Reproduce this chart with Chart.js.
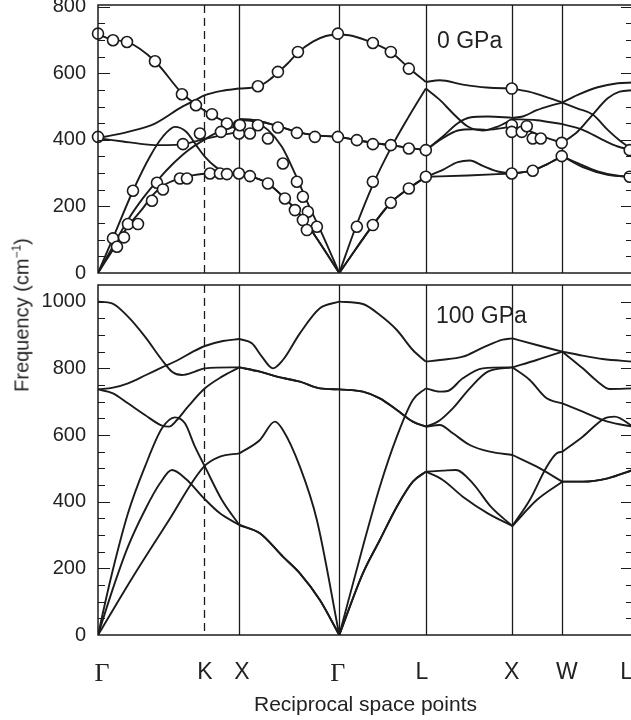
<!DOCTYPE html>
<html>
<head>
<meta charset="utf-8">
<script src="https://cdn.jsdelivr.net/npm/chart.js@4.4.1/dist/chart.umd.min.js"></script>
<style>
  html, body { margin: 0; padding: 0; background: #fff; overflow: hidden; }
  #wrap { position: relative; width: 631px; height: 720px; overflow: hidden; background: #fff; }
  #c0 { position: absolute; left: 0; top: -17px; }
  #c1 { position: absolute; left: 0; top: 263px; }
  #ytitle {
    position: absolute; left: 22px; top: 315px;
    transform: translate(-50%, -50%) rotate(-90deg);
    font: 20px "Liberation Sans", Arial, sans-serif; color: #222; white-space: nowrap;
  }
  #ytitle sup { font-size: 12px; vertical-align: 8px; line-height: 0; }
</style>
</head>
<body>
<div id="wrap">
  <canvas id="c0" width="663" height="312"></canvas>
  <canvas id="c1" width="663" height="457"></canvas>
  <div id="ytitle">Frequency (cm<sup>−1</sup>)</div>
</div>
<script>
// k-path distance (x100, units of 2π/a) of the symmetry points
const symK = [0, 106.1, 141.4, 241.4, 328.0, 414.6, 464.6, 535.3];
const kLabels = ['Γ', 'K', 'X', 'Γ', 'L', 'X', 'W', 'L'];
const labelK = [4, 107, 144, 240, 324, 414, 469, 529];
const breakK = [141.4, 241.4, 328.0, 414.6, 464.6];

const yTicksTop = [0, 200, 400, 600, 800];
const yTicksBot = [0, 200, 400, 600, 800, 1000];

// 0 GPa calculated branches  [k, cm-1]
const top1 = [[0,717],[15,700],[29,694],[57,636],[84,540],[99,504],[114,474],[129,453],[141.4,447],
  [141.4,554],[160,560],[170,577],[180,602],[190,630],[200,662],[215,695],[228,712],[241.4,717],
  [255,712],[275,691],[293,664],[311,616],[328,574],
  [342,579],[365,566],[389,557],[414.6,554],
  [432,544],[448,529],[464.6,512],
  [480,494],[495,476],[510,430],[522,398],[535.3,369]];
const top2 = [[0,405],[30,424],[57,449],[84,499],[97,519],[107,534],[124,547],[141.4,554],
  [141.4,462],[157,459],[177,444],[199,424],[217,414],[241.4,409],
  [258,400],[275,391],[293,384],[311,376],[328,369],
  [345,410],[360,450],[372,467],[390,470],[414.6,466],
  [425,470],[439,489],[452,502],[464.6,512],
  [480,535],[500,558],[520,570],[535.3,572]];
const top3 = [[0,405],[25,395],[45,387],[57,384],[70,384],[85,387],[106,402],[124,414],[141.4,424],
  [141.4,462],[157,459],[177,444],[199,424],[217,414],[241.4,409],
  [258,400],[275,391],[293,384],[311,376],[328,369],
  [345,405],[360,428],[375,432],[389,430],[414.6,440],
  [430,428],[447,408],[464.6,391],
  [480,425],[495,476],[510,525],[522,545],[535.3,549]];
const top4 = [[0,0],[15,105],[35,247],[52,350],[65,410],[77,439],[88,425],[98,385],[107,349],[118,318],[129,300],[141.4,299],
  [154,289],[170,269],[187,224],[204,169],[220,99],[241.4,0],
  [258,72],[275,144],[293,211],[311,254],[328,289],
  [345,310],[360,333],[372,338],[385,322],[400,305],[414.6,299],
  [435,308],[450,328],[464.6,351],
  [480,330],[500,305],[520,292],[535.3,289]];
const top5 = [[0,0],[15,80],[30,160],[45,225],[60,280],[75,328],[90,368],[106,400],[120,423],[141.4,444],
  [141.4,460],[157,454],[170,430],[184,379],[197,299],[210,209],[224,119],[241.4,0],
  [258,139],[275,265],[293,375],[311,470],[328,554],
  [342,520],[355,480],[370,440],[385,428],[400,440],[414.6,462],
  [439,459],[464.6,447],
  [485,430],[505,400],[520,380],[535.3,369]];
const top6 = [[0,0],[15,70],[30,140],[45,195],[55,235],[65,262],[80,283],[100,296],[120,299],[141.4,299],
  [154,289],[170,269],[187,224],[204,169],[220,99],[241.4,0],
  [258,72],[275,144],[293,211],[311,254],[328,289],
  [370,293],[414.6,299],
  [435,308],[450,328],[464.6,351],
  [485,318],[510,295],[535.3,289]];

// 0 GPa measured points
const expK = [0,15,29,57,84,98,114,129,141,141,123,102,85,0,35,15,19,26,30,40,54,59,65,82,89,112,122,129,141,
  152,160,180,200,240,142,160,180,199,217,240,170,185,199,205,210,219,152,170,187,197,205,209,
  275,293,311,259,275,293,311,328,259,275,275,293,311,328,
  414,414,414,424,429,435,443,414,435,464,464,532,532];
const expFreq = [719,699,694,636,537,504,477,449,444,419,424,419,387,409,247,104,79,107,147,147,217,271,251,284,284,299,299,297,299,
  419,561,604,664,719,444,444,437,421,409,409,404,329,274,229,184,139,291,269,224,189,159,129,
  691,664,614,399,387,384,374,369,139,274,144,211,254,289,
  554,444,424,424,441,404,404,299,307,391,351,369,289];

// 100 GPa calculated branches
const bot1 = [[0,1000],[14,995],[30,955],[47,895],[64,825],[74,790],[84,780],[97,790],[107,800],[141.4,803],
  [162,790],[179,775],[202,760],[222,740],[241.4,737],
  [265,730],[282,710],[299,675],[315,640],[328,625],
  [342,630],[355,605],[372,570],[392,550],[414.6,540],
  [439,505],[464.6,460],
  [485,460],[510,470],[535.3,495]];
const bot2 = [[0,737],[15,742],[30,755],[48,780],[64,803],[80,825],[95,850],[107,867],[125,882],[141.4,888],
  [154,875],[164,835],[175,800],[185,825],[202,905],[222,980],[241.4,1000],
  [265,993],[282,960],[299,915],[315,855],[328,820],
  [342,825],[365,835],[385,862],[405,886],[414.6,890],
  [439,870],[464.6,850],
  [485,838],[505,828],[535.3,820]];
const bot3 = [[0,737],[15,725],[30,695],[47,660],[64,628],[71,625],[79,645],[90,685],[107,740],[124,775],[141.4,803],
  [162,790],[179,775],[202,760],[222,740],[241.4,737],
  [265,730],[282,710],[299,675],[315,640],[328,625],
  [340,640],[355,680],[372,740],[390,790],[414.6,803],
  [439,825],[464.6,850],
  [485,800],[500,760],[512,738],[535.3,740]];
const bot4 = [[0,0],[12,160],[30,365],[47,505],[64,620],[77,653],[87,635],[97,565],[107,505],[124,405],[141.4,330],
  [162,305],[185,235],[202,185],[222,105],[241.4,0],
  [265,185],[282,285],[299,385],[315,460],[328,490],
  [345,493],[358,495],[375,455],[393,385],[414.6,327],
  [439,405],[464.6,460],
  [485,460],[510,470],[535.3,495]];
const bot5 = [[0,0],[15,140],[30,265],[47,375],[62,455],[74,495],[88,468],[106,410],[122,365],[141.4,330],
  [162,305],[185,235],[202,185],[222,105],[241.4,0],
  [265,185],[282,285],[299,385],[315,460],[328,490],
  [345,465],[365,415],[390,365],[414.6,327],
  [432,405],[449,505],[459,545],[464.6,550],
  [485,595],[507,650],[517,655],[535.3,625]];
const bot6 = [[0,0],[35,175],[69,335],[106,505],[122,535],[141.4,545],
  [162,585],[177,640],[185,615],[202,505],[219,345],[241.4,0],
  [265,265],[282,445],[299,595],[315,705],[328,740],
  [342,730],[350,732],[365,770],[385,800],[414.6,803],
  [432,765],[449,710],[464.6,695],
  [485,670],[510,640],[535.3,625]];

Chart.defaults.font.family = '"Liberation Sans", Arial, sans-serif';
Chart.defaults.color = '#222';

// cut a branch into pieces at the symmetry points
function pieces(band) {
  const segs = [];
  let cur = [];
  band.forEach((p, i) => {
    cur.push(p);
    const next = band[i + 1];
    if (next && breakK.includes(p[0])) {
      segs.push(cur);
      cur = next[0] === p[0] ? [] : [p];
    }
  });
  segs.push(cur);
  return segs;
}

function lineSets(bands) {
  const out = [];
  bands.forEach(b => pieces(b).forEach(seg => out.push({
    type: 'line',
    data: seg.map(p => ({ x: p[0], y: p[1] })),
    borderColor: '#1b1b1b',
    borderWidth: 1.9,
    pointRadius: 0,
    cubicInterpolationMode: 'monotone',
    fill: false,
    order: 1
  })));
  return out;
}

const framePlugin = {
  id: 'frame',
  beforeDatasetsDraw(chart) {
    const { ctx, chartArea: a, scales: { x } } = chart;
    ctx.save();
    ctx.strokeStyle = '#1b1b1b';
    ctx.lineWidth = 1.3;
    symK.forEach((k, i) => {
      if (i === 0 || i === symK.length - 1) return;
      const px = Math.round(x.getPixelForValue(k)) + 0.5;
      ctx.setLineDash(i === 1 ? [8, 5] : []);
      ctx.beginPath();
      ctx.moveTo(px, a.top);
      ctx.lineTo(px, a.bottom);
      ctx.stroke();
    });
    ctx.restore();
  },
  afterDatasetsDraw(chart, args, opts) {
    const { ctx, chartArea: a, scales: { y } } = chart;
    ctx.save();
    ctx.strokeStyle = '#1b1b1b';
    ctx.lineWidth = 1.5;
    ctx.strokeRect(a.left, a.top, a.right - a.left, a.bottom - a.top);
    // inner tick marks, every 50 cm-1
    ctx.lineWidth = 1.2;
    for (let v = 50; v < y.max; v += 50) {
      const py = Math.round(y.getPixelForValue(v)) + 0.5;
      const len = v % 200 === 0 ? 12 : 7;
      ctx.beginPath();
      ctx.moveTo(a.left, py); ctx.lineTo(a.left + len, py);
      ctx.moveTo(a.right, py); ctx.lineTo(a.right - len, py);
      ctx.stroke();
    }
    ctx.fillStyle = '#222';
    ctx.font = '23px "Liberation Sans", Arial, sans-serif';
    ctx.fillText(opts.text, opts.x, a.top + opts.dy);
    ctx.restore();
  }
};

function makePanel(id, bands, yMax, yTicks, label, withX, extra) {
  const datasets = lineSets(bands).concat(extra || []);
  return new Chart(document.getElementById(id), {
    type: 'line',
    data: { datasets },
    plugins: [framePlugin],
    options: {
      responsive: false,
      animation: false,
      events: [],
      layout: { padding: { left: 0, right: 30, top: 0, bottom: 0 } },
      plugins: { legend: { display: false }, tooltip: { enabled: false }, frame: label },
      scales: {
        x: {
          type: 'linear', min: 0, max: 535.3,
          display: withX,
          afterBuildTicks: s => { s.ticks = labelK.map(v => ({ value: v })); },
          afterFit: s => { if (withX) s.height = 85; },
          grid: { display: false, drawTicks: false },
          border: { display: false },
          ticks: {
            autoSkip: false, maxRotation: 0, padding: 24, color: '#222',
            callback: (v, i) => kLabels[i],
            font: c => kLabels[c.index] === 'Γ'
              ? { family: '"Liberation Serif", "Times New Roman", serif', size: 26 }
              : { family: '"Liberation Sans", Arial, sans-serif', size: 23 }
          },
          title: {
            display: true, text: 'Reciprocal space points', color: '#222',
            font: { size: 21 }, padding: { top: 0, bottom: 2 }
          }
        },
        y: {
          type: 'linear', min: 0, max: yMax,
          afterBuildTicks: s => { s.ticks = yTicks.map(v => ({ value: v })); },
          afterFit: s => { s.width = 98; },
          grid: { display: false, drawTicks: false },
          border: { display: false },
          ticks: {
            padding: 12, color: '#222', font: { size: 20, lineHeight: 1 },
            callback: v => String(v)
          }
        }
      }
    }
  });
}

const expPoints = {
  type: 'scatter',
  data: expK.map((k, i) => ({ x: k, y: expFreq[i] })),
  showLine: false,
  pointRadius: 5.5,
  pointBackgroundColor: '#fff',
  pointBorderColor: '#1b1b1b',
  pointBorderWidth: 1.6,
  clip: false,
  order: 0
};

makePanel('c0', [top1, top2, top3, top4, top5, top6], 805, yTicksTop,
  { text: '0 GPa', x: 437, dy: 43 }, false, [expPoints]);
makePanel('c1', [bot1, bot2, bot3, bot4, bot5, bot6], 1050, yTicksBot,
  { text: '100 GPa', x: 436, dy: 38 }, true);
</script>
</body>
</html>
